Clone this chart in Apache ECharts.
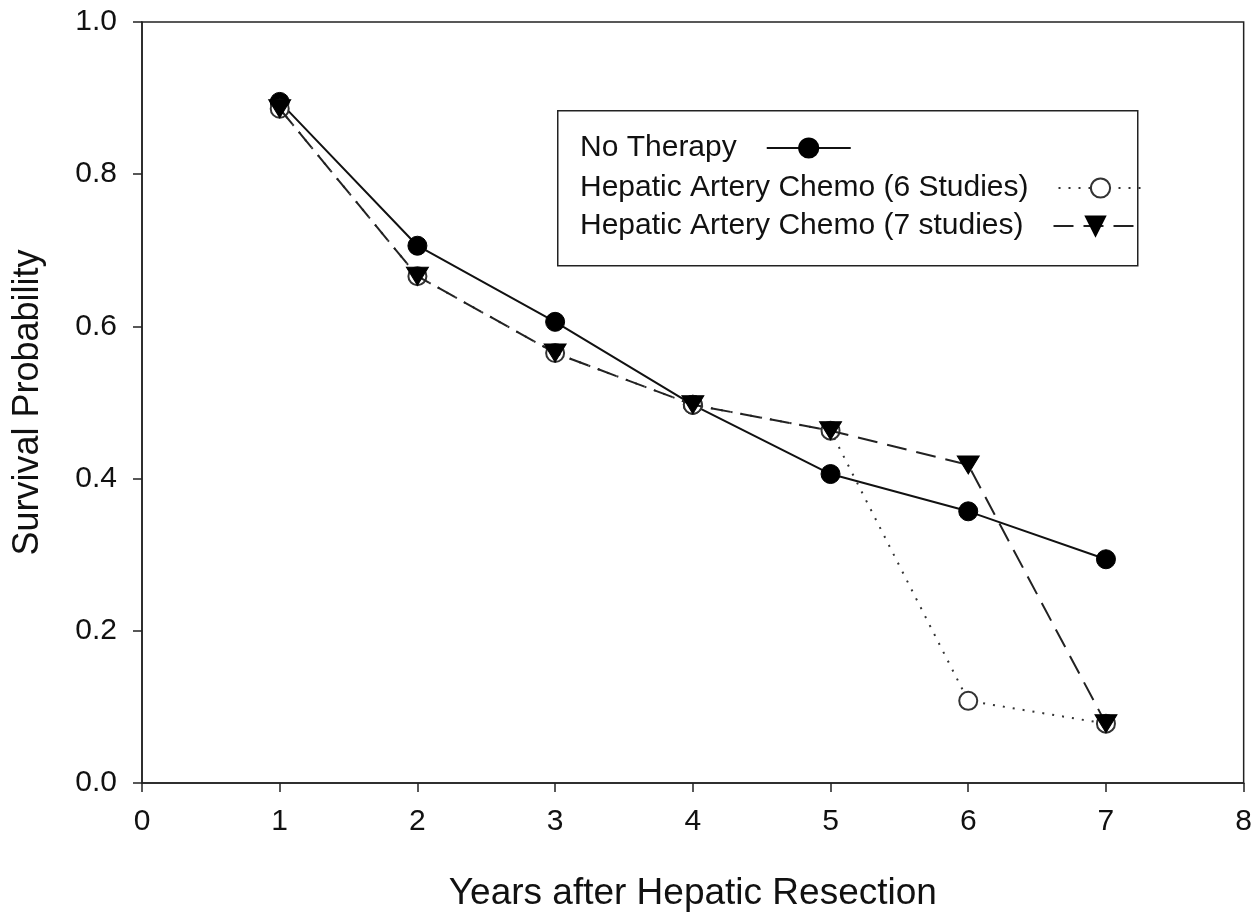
<!DOCTYPE html>
<html>
<head>
<meta charset="utf-8">
<script src="https://cdn.jsdelivr.net/npm/echarts@6/dist/echarts.min.js"></script>
<style>
html,body{margin:0;padding:0;background:#fff;}
#chart{width:1255px;height:917px;}
</style>
</head>
<body>
<div id="chart"></div>
<script>
var years = [1, 2, 3, 4, 5, 6, 7];
var noTherapy = [0.895, 0.706, 0.606, 0.497, 0.406, 0.357, 0.294];
var hac6 = [0.886, 0.666, 0.565, 0.497, 0.463, 0.108, 0.078];
var hac7 = [0.886, 0.666, 0.565, 0.497, 0.463, 0.418, 0.078];
var seriesNames = ['No Therapy', 'Hepatic Artery Chemo (6 Studies)', 'Hepatic Artery Chemo (7 studies)'];
var xTicks = [0, 1, 2, 3, 4, 5, 6, 7, 8];
var yTicks = [0.0, 0.2, 0.4, 0.6, 0.8, 1.0];

function pairs(vals) { return years.map(function (x, i) { return [x, vals[i]]; }); }

var font = '"Liberation Sans", Arial, sans-serif';
var legendTops = [133, 173, 211];
function makeLegend(i) {
  return {
    orient: 'vertical',
    left: 580, top: legendTops[i],
    align: 'right',
    itemWidth: 84, itemHeight: 24,
    padding: 0,
    textStyle: { fontFamily: font, fontSize: 30, color: '#111' },
    formatter: function (n) { return n + '   '; },
    data: [seriesNames[i]]
  };
}

var chart = echarts.init(document.getElementById('chart'));
chart.setOption({
  backgroundColor: '#fff',
  animation: false,
  textStyle: { fontFamily: font },
  grid: { left: 142, right: 7, top: 22, bottom: 124, show: true, borderColor: '#222', borderWidth: 1.5 },
  graphic: [{
    type: 'rect', left: 557, top: 110, z: 10,
    shape: { width: 580, height: 155 },
    style: { fill: 'rgba(0,0,0,0)', stroke: '#222', lineWidth: 1.5 }
  }],
  legend: [makeLegend(0), makeLegend(1), makeLegend(2)],
  xAxis: {
    type: 'value', min: xTicks[0], max: xTicks[xTicks.length - 1], interval: 1,
    splitLine: { show: false },
    axisLine: { lineStyle: { color: '#222', width: 1.5 } },
    axisTick: { length: 9, lineStyle: { color: '#222', width: 1.5 } },
    axisLabel: { fontSize: 30, color: '#111', margin: 24, fontFamily: font },
    name: 'Years after Hepatic Resection', nameLocation: 'middle', nameGap: 92,
    nameTextStyle: { fontSize: 37, color: '#111', fontFamily: font }
  },
  yAxis: {
    type: 'value', min: yTicks[0], max: yTicks[yTicks.length - 1], interval: 0.2,
    splitLine: { show: false },
    axisLine: { lineStyle: { color: '#222', width: 1.5 } },
    axisTick: { length: 9, lineStyle: { color: '#222', width: 1.5 } },
    axisLabel: { fontSize: 30, color: '#111', margin: 25, fontFamily: font,
      formatter: function (v) { return v.toFixed(1); } },
    name: 'Survival Probability', nameLocation: 'middle', nameGap: 96,
    nameTextStyle: { fontSize: 36, color: '#111', fontFamily: font }
  },
  series: [
    {
      name: seriesNames[0], type: 'line', data: pairs(noTherapy),
      symbol: 'circle', symbolSize: 19,
      lineStyle: { color: '#111', width: 2, type: 'solid' },
      itemStyle: { color: '#000', borderColor: '#000', borderWidth: 1 },
      z: 3
    },
    {
      name: seriesNames[1], type: 'line', data: pairs(hac6),
      symbol: 'circle', symbolSize: 18,
      lineStyle: { color: '#333', width: 2, type: [2, 8] },
      itemStyle: { color: '#fff', borderColor: '#333', borderWidth: 2 },
      z: 4
    },
    {
      name: seriesNames[2], type: 'line', data: pairs(hac7),
      symbol: 'triangle', symbolRotate: 180, symbolSize: [22, 18],
      lineStyle: { color: '#222', width: 2, type: [20, 10] },
      itemStyle: { color: '#000', borderColor: '#000', borderWidth: 1 },
      z: 5
    }
  ]
});
</script>
</body>
</html>
